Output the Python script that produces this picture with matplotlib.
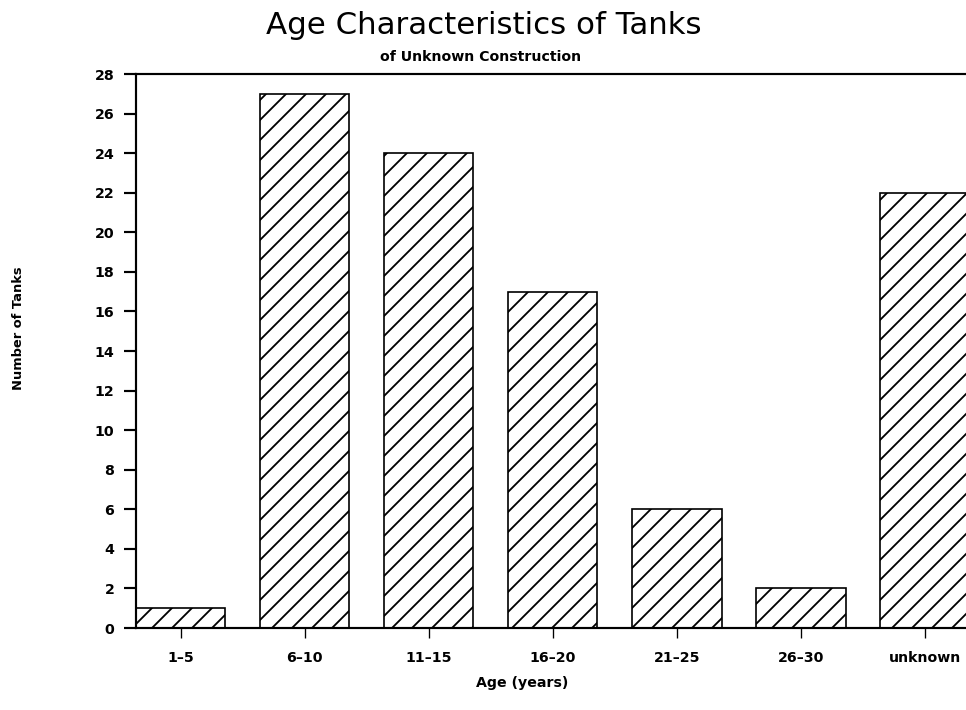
import matplotlib.pyplot as plt

# age groups and tank counts
ages = ['1–5', '6–10', '11–15', '16–20', '21–25', '26–30', 'unknown']
tanks = [1, 27, 24, 17, 6, 2, 22]
yticks = list(range(0, 29, 2))

plt.rcParams['hatch.linewidth'] = 1.1

fig = plt.figure(figsize=(966 / 120, 710 / 120), dpi=120)
ax = fig.add_axes([136 / 966, 82 / 710, 851 / 966, 554 / 710])

ax.bar(range(len(ages)), tanks, width=0.72, color='white', edgecolor='black',
       hatch='//', linewidth=1.0)

ax.set_xlim(-0.36, 6.5)
ax.set_ylim(0, 28)
ax.set_yticks(yticks)
ax.set_xticks(range(len(ages)))
ax.set_xticklabels(ages)

for s in ['left', 'top', 'bottom']:
    ax.spines[s].set_linewidth(1.3)
ax.spines['right'].set_visible(False)

ax.tick_params(axis='y', length=7, width=1.3, pad=6, labelsize=8.5)
ax.tick_params(axis='x', length=6, width=0.8, pad=8, labelsize=8.5)
for lab in ax.get_xticklabels() + ax.get_yticklabels():
    lab.set_fontweight('bold')

fig.text(484 / 966, 1 - 26 / 710, 'Age Characteristics of Tanks', ha='center',
         va='center', fontsize=18.5)
fig.text(481 / 966, 1 - 57 / 710, 'of Unknown Construction', ha='center',
         va='center', fontsize=8.5, fontweight='bold')
fig.text(522 / 966, 1 - 683 / 710, 'Age (years)', ha='center', va='center',
         fontsize=8.5, fontweight='bold')
fig.text(18 / 966, 1 - 328 / 710, 'Number of Tanks', ha='center', va='center',
         rotation=90, fontsize=7.8, fontweight='bold')

fig.savefig('out.png', dpi=120)
